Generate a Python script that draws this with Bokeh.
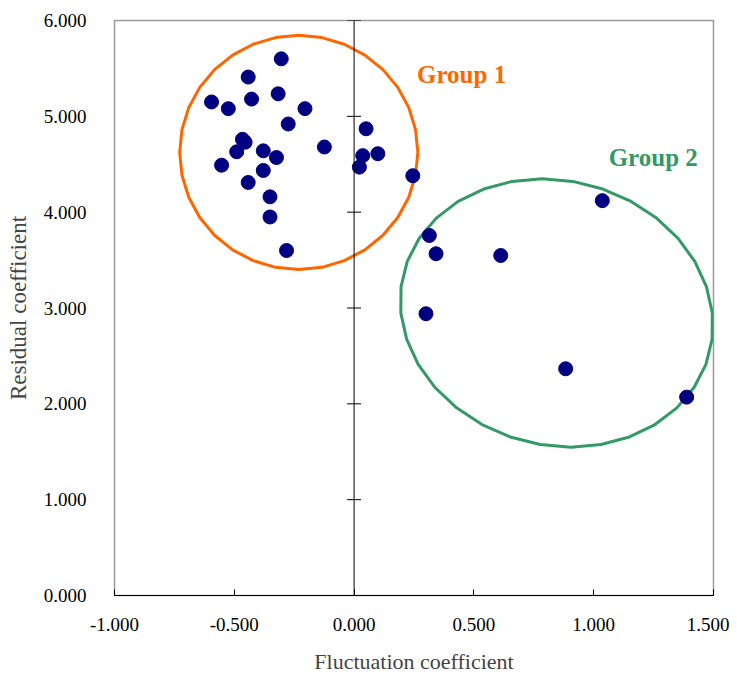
import numpy as np
from bokeh.plotting import figure
from bokeh.models import FixedTicker, Span, ColumnDataSource, CustomJSTickFormatter
from bokeh.core.properties import value
from bokeh.embed import file_html
from bokeh.resources import INLINE

# Data
fluct = [-0.304, -0.442, -0.317, -0.428, -0.595, -0.525, -0.205, -0.275, 0.050,
         -0.466, -0.455, -0.490, -0.379, -0.124, -0.324, 0.036, 0.099, -0.553, 0.022,
         -0.379, 0.245, -0.442, -0.351, -0.351, -0.282,
         1.036, 0.314, 0.342, 0.612, 0.300, 0.883, 1.388]
resid = [5.60, 5.41, 5.235, 5.18, 5.15, 5.08, 5.08, 4.92, 4.87,
         4.76, 4.73, 4.63, 4.64, 4.68, 4.57, 4.59, 4.61, 4.49, 4.47,
         4.435, 4.38, 4.31, 4.16, 3.95, 3.60,
         4.12, 3.757, 3.566, 3.548, 2.94, 2.366, 2.07]

x_ticks = [-1.0, -0.5, 0.0, 0.5, 1.0, 1.5]
y_ticks = [0.0, 1.0, 2.0, 3.0, 4.0, 5.0, 6.0]

# Group ellipses: center x, center y, half-width, half-height, shear
g1 = dict(cx=-0.231, cy=4.623, a=0.497, b=1.222, k=0.0)
g2 = dict(cx=0.845, cy=2.948, a=0.650, b=1.400, k=0.06)
group_labels = ["Group 1", "Group 2"]
label_x = [0.2625, 1.0625]
label_y = [5.435, 4.57]
group_colors = ["#FF6600", "#339966"]

SERIF = "Liberation Serif"

p = figure(width=729, height=679, x_range=(-1.0, 1.5), y_range=(0.0, 6.0),
           output_backend="svg", toolbar_location=None,
           min_border_left=114, min_border_right=16, min_border_top=20,
           min_border_bottom=84)
p.grid.visible = False
p.outline_line_color = "#9a9a9a"
p.outline_line_width = 1.5
p.background_fill_color = "white"

fmt = CustomJSTickFormatter(code="return tick.toFixed(3);")

xa = p.xaxis[0]
xa.ticker = FixedTicker(ticks=x_ticks)
xa.formatter = fmt
xa.axis_line_color = "black"
xa.axis_line_width = 1
xa.major_tick_in = 6
xa.major_tick_out = 0
xa.minor_tick_line_color = None
xa.major_label_standoff = 22
xa.major_label_text_font = SERIF
xa.major_label_text_font_size = "19px"
xa.major_label_text_color = "black"
xa.axis_label = "Fluctuation coefficient"
xa.axis_label_text_font = SERIF
xa.axis_label_text_font_size = "22px"
xa.axis_label_text_font_style = "normal"
xa.axis_label_standoff = 15

ya = p.yaxis[0]
ya.ticker = FixedTicker(ticks=y_ticks)
ya.formatter = fmt
ya.axis_line_color = None
ya.major_tick_line_color = None
ya.minor_tick_line_color = None
ya.major_label_standoff = 22
ya.major_label_text_font = SERIF
ya.major_label_text_font_size = "19px"
ya.major_label_text_color = "black"
ya.axis_label = "Residual coefficient"
ya.axis_label_text_font = SERIF
ya.axis_label_text_font_size = "23px"
ya.axis_label_text_font_style = "normal"
ya.axis_label_standoff = 10

# vertical axis line at x = 0 with crossing ticks
p.add_layout(Span(location=0.0, dimension="height", line_color="black", line_width=1))
p.scatter(x=[0.0] * len(y_ticks), y=y_ticks, marker="dash", size=14,
          line_color="black", line_width=1)

# ellipses as faceted polygons
t = np.linspace(0, 2 * np.pi, 33)
for g, c in zip([g1, g2], group_colors):
    ex = g["cx"] + g["a"] * np.cos(t) - g["k"] * np.sin(t)
    ey = g["cy"] + g["b"] * np.sin(t)
    p.line(ex, ey, line_color=c, line_width=3)

src = ColumnDataSource(dict(x=fluct, y=resid))
p.scatter("x", "y", source=src, size=14, fill_color="#000080", line_color="#000080")

p.text(x=label_x, y=label_y, text=group_labels, text_color=group_colors,
       text_font=value(SERIF), text_font_size="25px", text_font_style="bold",
       text_baseline="alphabetic", text_align="left")

open("out.html", "w").write(file_html(p, INLINE))
